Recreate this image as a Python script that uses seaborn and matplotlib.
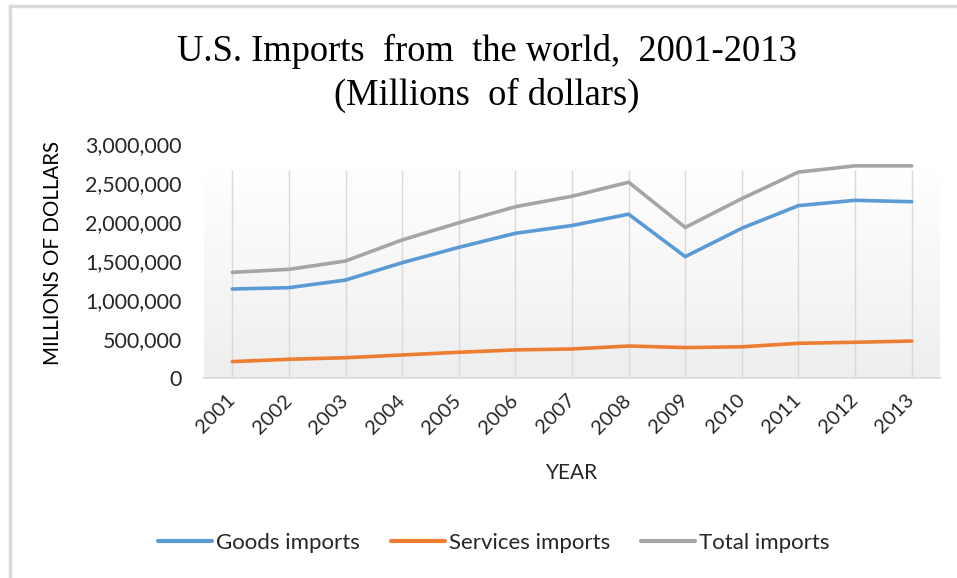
import numpy as np
import pandas as pd
import matplotlib
matplotlib.use("Agg")
import matplotlib.pyplot as plt
import seaborn as sns
from matplotlib.lines import Line2D
from matplotlib.ticker import FuncFormatter, MultipleLocator
from matplotlib.colors import LinearSegmentedColormap

years = ["2001", "2002", "2003", "2004", "2005", "2006", "2007",
         "2008", "2009", "2010", "2011", "2012", "2013"]
goods = [1141000, 1158000, 1256000, 1478000, 1675000, 1855000, 1955000,
         2100000, 1556000, 1920000, 2210000, 2278000, 2260000]
services = [210000, 240000, 260000, 295000, 330000, 360000, 372000,
            410000, 390000, 400000, 445000, 458000, 474000]
total = [1355000, 1393000, 1500000, 1770000, 1990000, 2196000, 2330000,
         2510000, 1930000, 2300000, 2640000, 2720000, 2720000]
series_names = ["Goods imports", "Services imports", "Total imports"]
colors = ["#5B9BD5", "#ED7D31", "#A5A5A5"]

df = pd.DataFrame({
    "Year": years * 3,
    "Value": goods + services + total,
    "Series": [series_names[0]] * 13 + [series_names[1]] * 13 + [series_names[2]] * 13,
})

sns.set_theme(style="white")
plt.rcParams["font.family"] = ["Lato", "DejaVu Sans"]

fig = plt.figure(figsize=(9.57, 5.78), dpi=100)
ax_w = 940 - 204
ax_h = 378 - 144
ax = fig.add_axes([204 / 957, 1 - 378 / 578, ax_w / 957, ax_h / 578])
ax.set_facecolor("white")

sns.lineplot(data=df, x="Year", y="Value", hue="Series", hue_order=series_names,
             palette=colors, linewidth=2.6, ax=ax, legend=False, sort=False)

ax.set_xlim(-0.5, 12.5)
ax.set_ylim(0, 3000000)

# gradient plot-area fill
frac = (378 - 170) / ax_h
grad = np.linspace(0, 1, 256).reshape(-1, 1)
cmap = LinearSegmentedColormap.from_list("g", ["#EEEEEE", "#FFFFFF"])
ax.imshow(grad, extent=[0, 1, 0, frac], transform=ax.transAxes,
          aspect="auto", cmap=cmap, zorder=0, origin="lower")
ax.vlines(range(len(years)), 0, frac, transform=ax.get_xaxis_transform(),
          colors="#D9D9D9", linewidth=1.0, zorder=1)

for s in ["top", "right", "left"]:
    ax.spines[s].set_visible(False)
ax.spines["bottom"].set_color("#D9D9D9")
ax.spines["bottom"].set_linewidth(1.2)

ax.yaxis.set_major_locator(MultipleLocator(500000))
ax.yaxis.set_major_formatter(FuncFormatter(lambda v, p: f"{v:,.0f}"))
ax.tick_params(axis="y", length=0, pad=16, labelsize=15.5, labelcolor="#262626")
ax.tick_params(axis="x", length=0, pad=14, labelsize=14.5, labelcolor="#262626")
for lab in ax.get_xticklabels():
    lab.set_rotation(45)
    lab.set_ha("right")
    lab.set_va("center")
    lab.set_rotation_mode("anchor")

ax.set_xlabel("YEAR", fontsize=15, color="#262626")
ax.xaxis.set_label_coords(0.5, -(463 - 378) / ax_h)
ax.set_ylabel("")
fig.text(53 / 957, 1 - 253 / 578, "MILLIONS OF DOLLARS", rotation=90,
         ha="center", va="center", fontsize=14.8, color="#000000")

fig.text(487 / 957, 1 - 73 / 578,
         "U.S. Imports  from  the world,  2001-2013\n(Millions  of dollars)",
         ha="center", va="center", fontsize=26.3, family=["Liberation Serif"],
         linespacing=1.32, color="#000000")

handles = [Line2D([0], [0], color=c, linewidth=3) for c in colors]
fig.legend(handles, series_names, loc="center", bbox_to_anchor=(494 / 957, 1 - 543 / 578),
           ncol=3, frameon=False, fontsize=16, handlelength=2.4, handletextpad=0.2,
           columnspacing=1.4, labelcolor="#262626")

# chart frame (left and top edges visible)
fig.add_artist(Line2D([9.5 / 957, 9.5 / 957], [0, 1 - 5.5 / 578], transform=fig.transFigure,
                      color="#D9D9D9", linewidth=2.5))
fig.add_artist(Line2D([9.5 / 957, 1], [1 - 5.5 / 578, 1 - 5.5 / 578], transform=fig.transFigure,
                      color="#D9D9D9", linewidth=2.5))

fig.savefig("out.png", dpi=100)
